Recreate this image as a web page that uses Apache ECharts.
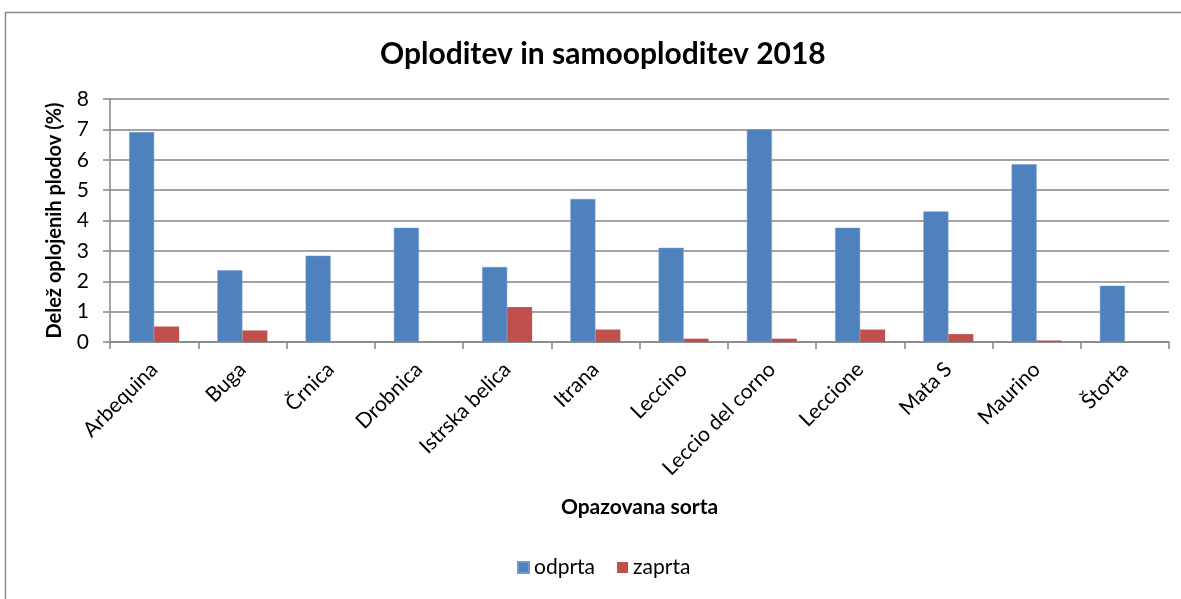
<!DOCTYPE html>
<html>
<head>
<meta charset="utf-8">
<script src="https://cdn.jsdelivr.net/npm/echarts@6/dist/echarts.min.js"></script>
<style>
html,body{margin:0;padding:0;background:#fff;}
#chart{width:1181px;height:599px;}
</style>
</head>
<body>
<div id="chart"></div>
<script>
const categories = ['Arbequina','Buga','Črnica','Drobnica','Istrska belica','Itrana','Leccino','Leccio del corno','Leccione','Mata S','Maurino','Štorta'];
const odprta = [6.91, 2.36, 2.84, 3.76, 2.47, 4.71, 3.10, 7.00, 3.76, 4.30, 5.85, 1.85];
const zaprta = [0.51, 0.38, 0, 0, 1.15, 0.41, 0.11, 0.11, 0.41, 0.26, 0.05, 0];
const yTicks = [0,1,2,3,4,5,6,7,8];

const FONT = 'Lato, "Open Sans", sans-serif';
const chart = echarts.init(document.getElementById('chart'));
chart.setOption({
  animation: false,
  backgroundColor: '#fff',
  graphic: [{
    type: 'rect', shape: {x: 5.5, y: 12.5, width: 1190, height: 600},
    style: {fill: 'none', stroke: '#8c8c8c', lineWidth: 1.5}, silent: true
  }],
  title: {
    text: 'Oploditev in samooploditev 2018',
    left: 375, top: 34,
    textStyle: {fontFamily: FONT, fontSize: 30, fontWeight: 'bold', color: '#000'}
  },
  legend: {
    bottom: 16, left: 512,
    itemWidth: 11, itemHeight: 11, itemGap: 22,
    icon: 'rect',
    textStyle: {fontFamily: FONT, fontSize: 21, color: '#000'},
    data: ['odprta','zaprta']
  },
  grid: {left: 110, right: 12, top: 99, bottom: 257, containLabel: false},
  xAxis: {
    type: 'category', data: categories,
    name: 'Opazovana sorta', nameLocation: 'middle', nameGap: 155,
    nameMoveOverlap: false,
    nameTextStyle: {fontFamily: FONT, fontSize: 21, fontWeight: 'bold', color: '#000'},
    axisLine: {lineStyle: {color: '#868686', width: 1.5}},
    axisTick: {show: true, length: 7, lineStyle: {color: '#868686', width: 1.5}},
    axisLabel: {rotate: 45, fontFamily: FONT, fontSize: 21, color: '#000', margin: 24, interval: 0}
  },
  yAxis: {
    type: 'value', min: 0, max: 8, interval: 1,
    name: 'Delež oplojenih plodov (%)', nameLocation: 'middle', nameGap: 45, nameRotate: 90,
    nameMoveOverlap: false,
    nameTextStyle: {fontFamily: FONT, fontSize: 20, fontWeight: 'bold', color: '#000'},
    axisLine: {show: true, lineStyle: {color: '#868686', width: 1.5}},
    axisTick: {show: true, length: 7, lineStyle: {color: '#868686', width: 1.5}},
    axisLabel: {fontFamily: FONT, fontSize: 21, color: '#000', margin: 21,
      formatter: v => yTicks.includes(v) ? String(v) : ''},
    splitLine: {lineStyle: {color: '#868686', width: 1.5}}
  },
  series: [
    {name: 'odprta', type: 'bar', data: odprta, barWidth: 25, barGap: '0%',
     itemStyle: {color: '#4F81BD', borderColor: '#6d9bd1', borderWidth: 0.5}},
    {name: 'zaprta', type: 'bar', data: zaprta, barWidth: 25, barGap: '0%',
     itemStyle: {color: '#C0504D'}}
  ]
});
</script>
</body>
</html>
